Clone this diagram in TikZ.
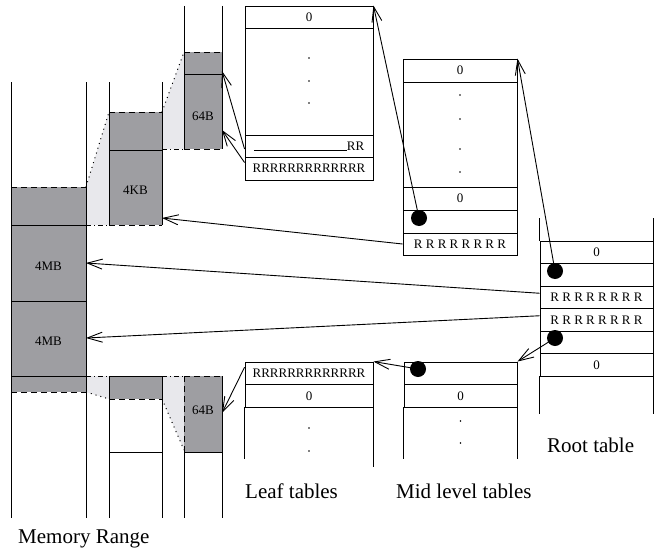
\documentclass[tikz,border=0pt]{standalone}
\usepackage{fontspec}
\setmainfont{Liberation Serif}
\usetikzlibrary{arrows.meta}
\definecolor{blockgray}{RGB}{158,158,162}
\definecolor{zoomgray}{RGB}{232,232,236}
\newcommand\mycellfont{\fontsize{13}{15}\selectfont}
\newcommand\mylabelfont{\fontsize{21}{24}\selectfont}
\begin{document}
\begin{tikzpicture}[x=1pt,y=-1pt,
  every node/.style={inner sep=0pt},
  colline/.style={line width=0.9pt},
  blockedge/.style={line width=0.9pt, dash pattern=on 6pt off 4pt},
  zoomdot/.style={line width=1pt, dash pattern=on 1pt off 4pt},
  zoomdashdot/.style={line width=0.9pt, dash pattern=on 5pt off 3pt on 1pt off 3pt},
  leafrow/.style={draw, line width=0.9pt, minimum width=128pt, font=\mycellfont},
  midrow/.style={draw, line width=0.9pt, minimum width=114pt, font=\mycellfont},
  rootrow/.style={draw, line width=0.9pt, minimum width=113pt, font=\mycellfont},
  blocklabel/.style={font=\mycellfont},
  smalldot/.style={circle, fill, minimum size=1.8pt},
  bigdot/.style={circle, fill, minimum size=16pt},
  arr/.style={line width=0.9pt, -{Straight Barb[length=15pt,width=10pt]}},
  caption/.style={anchor=base west, font=\mylabelfont}]
\fill[white] (0,0) rectangle (658,551);
\useasboundingbox (0,0) rectangle (658,551);

% light zoom fills
\fill[zoomgray] (86,187) -- (109,112) -- (109,225) -- (86,225) -- cycle;
\fill[zoomgray] (162,112) -- (184,52) -- (184,149) -- (162,149) -- cycle;
\fill[zoomgray] (86,376) -- (109,376) -- (109,399) -- (86,392) -- cycle;
\fill[zoomgray] (162,376) -- (184,376) -- (184,450) -- (162,399) -- cycle;
% gray blocks
\fill[blockgray] (11,187) rectangle (86,392);
\fill[blockgray] (109,112) rectangle (162,225);
\fill[blockgray] (184,52) rectangle (222,149);
\fill[blockgray] (109,376) rectangle (162,399);
\fill[blockgray] (184,376) rectangle (222,452);

% columns
\draw[colline] (11,82) -- (11,518) (86,82) -- (86,518);
\draw[colline] (109,82) -- (109,225) (162,82) -- (162,225);
\draw[colline] (109,376) -- (109,518) (162,376) -- (162,518);
\draw[colline] (184,6) -- (184,149) (222,6) -- (222,149);
\draw[colline] (184,452) -- (184,518) (222,376) -- (222,518);
\draw[blockedge] (184,376) -- (184,452);
% solid separators
\draw[colline] (11,225) -- (86,225) (11,301) -- (86,301) (11,376) -- (86,376);
\draw[colline] (109,150) -- (162,150);
\draw[colline] (184,74) -- (222,74);
\draw[colline] (109,376) -- (162,376) (109,452) -- (162,452);
\draw[colline] (184,452) -- (222,452);
% dashed block edges
\draw[blockedge] (11,187) -- (86,187) (11,392) -- (86,392);
\draw[blockedge] (109,112) -- (162,112) (109,225) -- (162,225);
\draw[blockedge] (184,52) -- (222,52) (184,149) -- (222,149);
\draw[blockedge] (109,399) -- (162,399);
\draw[blockedge] (184,376) -- (222,376);
% zoom guides
\draw[zoomdot] (86,187) -- (109,112);
\draw[zoomdot] (162,112) -- (184,52);
\draw[zoomdot] (86,392) -- (109,399);
\draw[zoomdot] (162,399) -- (184,450);
\draw[zoomdashdot] (86,225) -- (109,225);
\draw[zoomdashdot] (162,149) -- (184,149);
\draw[zoomdashdot] (86,376) -- (109,376);
\draw[zoomdashdot] (162,376) -- (184,376);

% block labels
\node[blocklabel] (mb4a) at (48.5,266) {4MB};
\node[blocklabel] (mb4b) at (48.5,341) {4MB};
\node[blocklabel] (kb4) at (135.5,190) {4KB};
\node[blocklabel] (b64a) at (203,116) {64B};
\node[blocklabel] (b64b) at (203,410) {64B};

% arrow targets on memory columns
\coordinate (c2hit) at (162,218);
\coordinate (c1hitA) at (86,263);
\coordinate (c1hitB) at (86,338);
\coordinate (c3hitA) at (222,71);
\coordinate (c3hitB) at (222,130);
\coordinate (c3hitC) at (222,413);

% leaf table (top)
\node[leafrow, minimum height=22pt] (lt0) at (309,17) {0};
\node[leafrow, minimum height=107pt] (ltgap) at (309,81.5) {};
\node[leafrow, minimum height=22pt] (ltr1) at (309,146) {\rule[-0.5pt]{93pt}{0.6pt}RR};
\node[leafrow, minimum height=23pt] (ltr2) at (309,168.5) {RRRRRRRRRRRRR};
\node[smalldot] (ltd1) at (309,58) {};
\node[smalldot] (ltd2) at (309,81) {};
\node[smalldot] (ltd3) at (309,103) {};

% mid table (top)
\node[midrow, minimum height=23pt] (mt0) at (460,70.5) {0};
\node[midrow, minimum height=105pt] (mtgap) at (460,134.5) {};
\node[midrow, minimum height=23pt] (mt0b) at (460,198.5) {0};
\node[midrow, minimum height=23pt] (mtp) at (460,221.5) {};
\node[midrow, minimum height=22pt] (mtR) at (460,244) {R R R R R R R R};
\node[smalldot] (mtd1) at (460,95) {};
\node[smalldot] (mtd2) at (460,119) {};
\node[smalldot] (mtd3) at (460,149) {};
\node[smalldot] (mtd4) at (460,172) {};
\node[bigdot] (mtdot) at (419,218) {};

% root table
\node[rootrow, minimum height=22.5pt] (rt0) at (596.5,252.25) {0};
\node[rootrow, minimum height=22.5pt] (rtp1) at (596.5,274.75) {};
\node[rootrow, minimum height=22.5pt] (rtR1) at (596.5,297.25) {R R R R R R R R};
\node[rootrow, minimum height=22.5pt] (rtR2) at (596.5,319.75) {R R R R R R R R};
\node[rootrow, minimum height=22.5pt] (rtp2) at (596.5,342.25) {};
\node[rootrow, minimum height=22.5pt] (rt0b) at (596.5,364.75) {0};
\draw[colline] (rt0.north west) -- ++(0,-23) (rt0.north east) -- ++(0,-23);
\draw[colline] (rt0b.south west) -- ++(0,38) (rt0b.south east) -- ++(0,38);
\node[bigdot] (rtdot1) at (555,271) {};
\node[bigdot] (rtdot2) at (555,338) {};

% mid table (bottom)
\node[midrow, minimum width=113pt, minimum height=22.5pt] (mbp) at (460.5,373.25) {};
\node[midrow, minimum width=113pt, minimum height=22.5pt] (mb0) at (460.5,395.75) {0};
\draw[colline] (mb0.south west) -- ++(0,52) (mb0.south east) -- ++(0,52);
\node[smalldot] (mbd1) at (460.5,421) {};
\node[smalldot] (mbd2) at (460.5,443) {};
\node[bigdot] (mbdot) at (418,369) {};

% leaf table (bottom)
\node[leafrow, minimum height=22.5pt] (lbR) at (309,373.25) {RRRRRRRRRRRRR};
\node[leafrow, minimum height=22.5pt] (lb0) at (309,395.75) {0};
\draw[colline] (lb0.south west) -- ++(0,52) (lb0.south east) -- ++(0,60);
\node[smalldot] (lbd1) at (309,428) {};
\node[smalldot] (lbd2) at (309,451) {};

% arrows
\draw[arr] (rtdot1.center) -- (mt0.north east);
\draw[arr] (mtdot.center) -- (lt0.north east);
\draw[arr] (mtR.west) -- (c2hit);
\draw[arr] ([yshift=4pt]rtR1.west) -- (c1hitA);
\draw[arr] ([yshift=4pt]rtR2.west) -- (c1hitB);
\draw[arr] (rtdot2.center) -- (mbp.north east);
\draw[arr] (mbdot.center) -- (lbR.north east);
\draw[arr] ([yshift=-3pt]ltr1.west) -- (c3hitA);
\draw[arr] ([yshift=6pt]ltr2.west) -- (c3hitB);
\draw[arr] ([yshift=6pt]lbR.west) -- (c3hitC);

% captions
\node[caption] (cleaf) at (245,498) {Leaf tables};
\node[caption] (cmid) at (396,498) {Mid level tables};
\node[caption] (croot) at (547,452) {Root table};
\node[caption] (cmem) at (18,543) {Memory Range};
\end{tikzpicture}
\end{document}
